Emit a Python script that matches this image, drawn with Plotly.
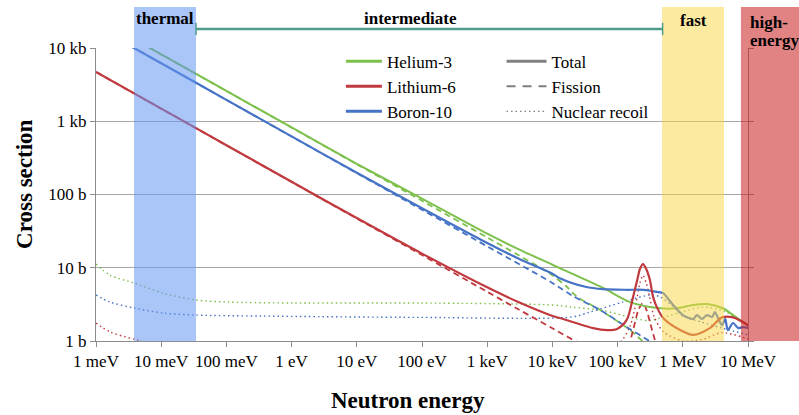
import numpy as np
import plotly.graph_objects as go

# ---- Cross-section data (energy in eV, cross section in barns) ----
# Helium-3
HE3_E_TOT = [1e-3, 1e-2, 1e-1, 1, 10, 100, 1e3, 3e3, 1e4, 2e4, 6e4, 1.55e5, 4.5e5, 8e5,
             1.44e6, 2.35e6, 4.1e6, 7.5e6, 1.05e7]
HE3_TOT = [25900, 8190, 2590, 822, 262, 88, 29.2, 18.0, 11.0, 8.3, 5.3, 3.4, 2.8, 2.8,
           3.1, 3.2, 2.8, 1.94, 1.6]
HE3_E_NP = [1e-3, 1e-2, 1e-1, 1, 10, 100, 1e3, 3e3, 1e4, 1.66e4, 2.4e4, 5.4e4, 1.55e5, 3e5, 1e6]
HE3_NP = [25900, 8190, 2590, 819, 259, 82, 25.9, 14.9, 7.9, 5.5, 4.0, 2.65, 1.41, 0.85, 0.45]
HE3_E_EL = [1e-3, 1.64e-3, 3.83e-3, 1.07e-2, 3.4e-2, 0.11, 1.1, 100, 1e4, 2e4, 6e4, 2e5,
            3e5, 5e5, 1e6, 2e6, 4e6, 1.05e7]
HE3_EL = [11.2, 7.9, 6.2, 4.5, 3.63, 3.4, 3.3, 3.3, 3.1, 2.9, 2.6, 2.0, 1.9, 2.1, 2.5,
          2.9, 2.6, 1.6]

# Lithium-6
LI6_E_TOT = [1e-3, 1e-2, 1e-1, 1, 10, 100, 1e3, 3e3, 1e4, 1.3e4, 4.2e4, 6.9e4, 9.8e4,
             1.38e5, 1.73e5, 2e5, 2.2e5, 2.45e5, 2.75e5, 3.13e5, 3.5e5, 4e5, 5e5, 9.1e5,
             1.44e6, 2.6e6, 4e6, 5.9e6, 1.05e7]
LI6_TOT = [4700, 1487, 471, 149, 47.7, 15.6, 5.4, 3.4, 2.2, 2.06, 1.5, 1.41, 1.46,
           1.94, 4.0, 6.8, 9.6, 11.2, 9.6, 6.8, 4.0, 2.9, 2.06, 1.41,
           1.21, 1.5, 2.1, 2.1, 1.6]
LI6_E_NT = [1e-3, 1e-2, 1e-1, 1, 10, 100, 1e3, 3e3, 1e4, 3e4, 1e5, 1.4e5, 1.73e5, 2.1e5,
            2.45e5, 2.8e5, 3.16e5, 3.73e5, 4.5e5, 1e6]
LI6_NT = [4700, 1486, 470, 148.6, 47, 14.9, 4.7, 2.71, 1.49, 0.86, 0.47, 0.75, 1.41, 2.7,
          3.3, 2.6, 1.76, 1.03, 0.6, 0.25]
LI6_E_EL = [1e-3, 1.64e-3, 3.8e-3, 1e-2, 0.1, 1e4, 1e5, 1.55e5, 2e5, 2.2e5, 2.45e5, 2.75e5,
            3.1e5, 3.6e5, 5e5, 1e6, 2e6, 4e6, 1.05e7]
LI6_EL = [1.76, 1.33, 1.06, 0.85, 0.75, 0.72, 0.9, 1.6, 4.0, 6.2, 7.9, 6.2,
          4.0, 2.2, 1.35, 1.0, 1.05, 1.3, 1.05]

# Boron-10
B10_E_TOT = [1e-3, 1e-2, 1e-1, 1, 10, 100, 1e3, 3e3, 1e4, 1.3e4, 3.2e4, 6e4, 1.4e5, 2.5e5,
             4.5e5, 5e5, 7.1e5, 1e6, 1.44e6, 1.65e6, 1.97e6, 2.34e6, 2.82e6, 3.1e6, 3.47e6,
             4e6, 4.47e6, 4.9e6, 5.9e6, 7.1e6, 8.3e6, 1.05e7]
B10_TOT = [19570, 6190, 1960, 621, 198, 65, 21.8, 13.4, 8.3, 7.2, 5.5, 5.1, 5.0, 5.0,
           4.6, 4.5, 3.1, 2.26, 2.0, 2.26, 2.0, 2.26, 2.13, 2.49, 2.06,
           1.65, 2.0, 1.41, 1.76, 1.5, 1.55, 1.5]
B10_E_NA = [1e-3, 1e-2, 1e-1, 1, 10, 100, 1e3, 1e4, 2.07e4, 5.4e4, 1.38e5, 3.16e5, 1e6]
B10_NA = [19570, 6190, 1960, 619, 196, 62, 19.6, 6.2, 4.1, 2.65, 1.55, 0.98, 0.45]
B10_E_EL = [1e-3, 1.64e-3, 3.83e-3, 1.07e-2, 3.4e-2, 0.36, 100, 2e4, 3.8e4, 1.2e5, 3.2e5,
            4.5e5, 7e5, 1e6, 2e6, 4e6, 1.05e7]
B10_EL = [4.25, 3.4, 2.82, 2.41, 2.26, 2.19, 2.1, 2.13, 2.49, 3.4, 4.25,
          4.0, 3.0, 2.2, 1.8, 1.5, 1.2]

# Axis ticks
X_TICKS = [1e-3, 1e-2, 1e-1, 1, 10, 100, 1e3, 1e4, 1e5, 1e6, 1e7]
X_LABELS = ["1 meV", "10 meV", "100 meV", "1 eV", "10 eV", "100 eV",
            "1 keV", "10 keV", "100 keV", "1 MeV", "10 MeV"]
Y_TICKS = [1, 10, 100, 1000, 10000]
Y_LABELS = ["1 b", "10 b", "100 b", "1 kb", "10 kb"]

# Energy regions (eV)
THERMAL = (3.83e-3, 3.42e-2)
INTERMEDIATE = (3.42e-2, 4.9e5)
FAST = (4.8e5, 4.29e6)
HIGH_START = 7.8e6

X_LOG = (-3, 7)
Y_LOG = (0, 4)

GREEN = "#7dc04c"
RED = "#c0393e"
BLUE = "#4673c6"
GREY = "#808080"
FONT = "Liberation Serif, Times New Roman, serif"


def xp(e):
    """Energy -> paper x coordinate on the log axis."""
    return (np.log10(e) - X_LOG[0]) / (X_LOG[1] - X_LOG[0])


fig = go.Figure()

dot = "1.5px,3px"
dash = "6px,4px"

series = [
    (HE3_E_EL, HE3_EL, GREEN, dot, 1.4),
    (B10_E_EL, B10_EL, BLUE, dot, 1.4),
    (LI6_E_EL, LI6_EL, RED, dot, 1.4),
    (HE3_E_NP, HE3_NP, GREEN, dash, 1.8),
    (B10_E_NA, B10_NA, BLUE, dash, 1.8),
    (LI6_E_NT, LI6_NT, RED, dash, 1.8),
    (HE3_E_TOT, HE3_TOT, GREEN, "solid", 2.0),
    (B10_E_TOT, B10_TOT, BLUE, "solid", 2.2),
    (LI6_E_TOT, LI6_TOT, RED, "solid", 2.2),
]
for xs, ys, col, ds, w in series:
    fig.add_trace(go.Scatter(x=xs, y=ys, mode="lines", showlegend=False,
                             line=dict(color=col, dash=ds, width=w, shape="spline",
                                       smoothing=0.8),
                             hoverinfo="skip"))

# Legend entries: isotopes and reaction types
for name, col in [("Helium-3", GREEN), ("Lithium-6", RED), ("Boron-10", BLUE)]:
    fig.add_trace(go.Scatter(x=[None], y=[None], mode="lines", name=name,
                             line=dict(color=col, width=3), legend="legend"))
for name, ds, w in [("Total", "solid", 3), ("Fission", "9px,7px", 2.2),
                    ("Nuclear recoil", "1.5px,3px", 1.2)]:
    fig.add_trace(go.Scatter(x=[None], y=[None], mode="lines", name=name,
                             line=dict(color=GREY, width=w, dash=ds), legend="legend2"))

TOP = 1.14
shapes = [
    dict(type="rect", xref="paper", yref="paper", x0=xp(THERMAL[0]), x1=xp(THERMAL[1]),
         y0=0, y1=TOP, fillcolor="rgba(100,150,240,0.55)", line_width=0, layer="above"),
    dict(type="rect", xref="paper", yref="paper", x0=xp(FAST[0]), x1=xp(FAST[1]),
         y0=0, y1=TOP, fillcolor="rgba(251,213,68,0.5)", line_width=0, layer="above"),
    dict(type="rect", xref="paper", yref="paper", x0=xp(HIGH_START), x1=1.2,
         y0=0, y1=TOP, fillcolor="rgba(200,30,30,0.55)", line_width=0, layer="above"),
]
ARROW_Y = 1.065
TEAL = "#4f9c8c"
shapes.append(dict(type="line", xref="paper", yref="paper", x0=xp(INTERMEDIATE[0]),
                   x1=xp(INTERMEDIATE[1]), y0=ARROW_Y, y1=ARROW_Y,
                   line=dict(color=TEAL, width=2.5)))
for e in INTERMEDIATE:
    shapes.append(dict(type="line", xref="paper", yref="paper", x0=xp(e), x1=xp(e),
                       y0=ARROW_Y - 0.021, y1=ARROW_Y + 0.021,
                       line=dict(color=TEAL, width=1.5)))

lab = dict(family=FONT, size=17, color="black")
common = dict(xref="paper", yref="paper", showarrow=False, yanchor="middle")
annotations = [
    dict(text="<b>thermal</b>", x=(xp(THERMAL[0]) + xp(THERMAL[1])) / 2, y=1.1,
         xanchor="center", font=lab, **common),
    dict(text="<b>intermediate</b>", x=0.482, y=1.1, xanchor="center", font=lab, **common),
    dict(text="<b>fast</b>", x=(xp(FAST[0]) + xp(FAST[1])) / 2, y=1.093,
         xanchor="center", font=lab, **common),
    dict(text="<b>high-</b>", x=1.0, y=1.088, xanchor="left", font=lab, **common),
    dict(text="<b>energy</b>", x=1.0, y=1.025, xanchor="left", font=lab, **common),
    dict(text="<b>Cross section</b>", x=-0.109, y=0.536, xanchor="center", textangle=-90,
         font=dict(family=FONT, size=23, color="black"), **common),
    dict(text="<b>Neutron energy</b>", x=0.4785, y=-0.2014, xanchor="center",
         font=dict(family=FONT, size=23, color="black"), **common),
]

legend_common = dict(bgcolor="rgba(0,0,0,0)", font=dict(family=FONT, size=17, color="black"),
                     xanchor="left", yanchor="top", tracegroupgap=0)

fig.update_layout(
    width=799, height=415,
    margin=dict(l=96, r=51, t=48, b=74),
    paper_bgcolor="white", plot_bgcolor="white",
    font=dict(family=FONT, size=17, color="black"),
    shapes=shapes, annotations=annotations,
    legend=dict(x=0.3756, y=1.015, itemwidth=36, **legend_common),
    legend2=dict(x=0.622, y=1.015, itemwidth=40, **legend_common),
    xaxis=dict(type="log", range=list(X_LOG), tickvals=X_TICKS, ticktext=X_LABELS,
               showgrid=False, showline=True, linecolor="#8c8c8c", linewidth=1,
               ticks="outside", ticklen=5, tickcolor="#8c8c8c", zeroline=False,
               tickfont=dict(family=FONT, size=17, color="black")),
    yaxis=dict(type="log", range=list(Y_LOG), tickvals=Y_TICKS, ticktext=Y_LABELS,
               showgrid=True, gridcolor="#a6a6a6", gridwidth=1,
               showline=True, linecolor="#8c8c8c", linewidth=1, mirror="ticks",
               ticks="outside", ticklen=5, tickcolor="#8c8c8c", zeroline=False,
               tickfont=dict(family=FONT, size=17, color="black")),
)

fig.write_html("out.html")
